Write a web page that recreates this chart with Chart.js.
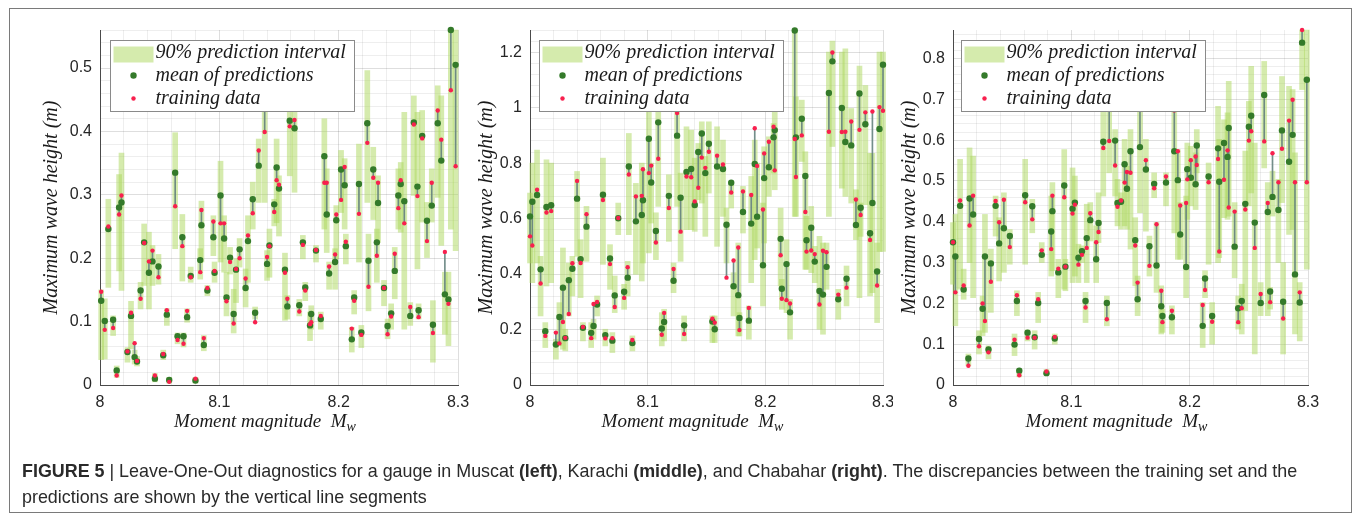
<!DOCTYPE html>
<html>
<head>
<meta charset="utf-8">
<script src="https://cdn.jsdelivr.net/npm/chart.js@4.4.0/dist/chart.umd.min.js"></script>
<style>
html,body{margin:0;padding:0;background:#fff;width:1355px;height:519px;overflow:hidden;}
.cw{position:absolute;top:0;height:440px;}
#frame{position:absolute;left:9px;top:8px;width:1341px;height:503px;border:1.5px solid #7a7a7a;pointer-events:none;}
#cap{position:absolute;left:22px;top:459px;font-family:"Liberation Sans",Arial,sans-serif;font-size:17.9px;line-height:25.5px;color:#2a2a2a;white-space:nowrap;}
</style>
</head>
<body>
<div class="cw" style="left:0px;width:470px"><canvas id="c1" width="470" height="440"></canvas></div>
<div class="cw" style="left:470px;width:423px"><canvas id="c2" width="423" height="440"></canvas></div>
<div class="cw" style="left:893px;width:450px"><canvas id="c3" width="450" height="440"></canvas></div>
<div id="frame"></div>
<div id="cap"><b>FIGURE 5</b> | Leave-One-Out diagnostics for a gauge in Muscat <b>(left)</b>, Karachi <b>(middle)</b>, and Chabahar <b>(right)</b>. The discrepancies between the training set and the<br>predictions are shown by the vertical line segments</div>
<script>
// ---------------- DATA ----------------
const legendLabels = ['90% prediction interval', 'mean of predictions', 'training data'];
const yTitle = 'Maximum wave height (m)';
const xTitleMain = 'Moment magnitude  M';
const xTitleSub = 'w';

const xMajorTicks = [8, 8.1, 8.2, 8.3];
const yMajorMuscat = [0, 0.1, 0.2, 0.3, 0.4, 0.5];
const yMajorKarachi = [0, 0.2, 0.4, 0.6, 0.8, 1, 1.2];
const yMajorChabahar = [0, 0.1, 0.2, 0.3, 0.4, 0.5, 0.6, 0.7, 0.8];

// Muscat (left)
const xMuscat = [8.001,8.004,8.007,8.011,8.014,8.016,8.018,8.023,8.026,8.029,8.031,8.034,8.037,8.041,8.044,8.046,8.049,8.053,8.056,8.058,8.063,8.065,8.069,8.070,8.073,8.076,8.080,8.084,8.085,8.087,8.090,8.095,8.096,8.101,8.104,8.106,8.109,8.112,8.114,8.117,8.122,8.124,8.128,8.130,8.133,8.138,8.140,8.142,8.146,8.148,8.150,8.155,8.157,8.159,8.163,8.167,8.170,8.172,8.176,8.177,8.181,8.185,8.188,8.190,8.192,8.197,8.198,8.202,8.205,8.206,8.211,8.213,8.217,8.219,8.224,8.225,8.229,8.232,8.233,8.238,8.241,8.244,8.247,8.250,8.252,8.255,8.260,8.263,8.266,8.267,8.270,8.274,8.278,8.279,8.283,8.286,8.289,8.292,8.294,8.298];
const meanMuscat = [0.133,0.101,0.246,0.103,0.023,0.280,0.288,0.052,0.109,0.044,0.037,0.149,0.225,0.177,0.195,0.010,0.187,0.047,0.111,0.008,0.335,0.077,0.233,0.077,0.107,0.172,0.007,0.197,0.252,0.063,0.149,0.233,0.177,0.299,0.231,0.138,0.201,0.112,0.182,0.214,0.153,0.227,0.293,0.114,0.346,0.437,0.191,0.220,0.285,0.343,0.310,0.182,0.124,0.417,0.405,0.126,0.225,0.154,0.094,0.112,0.212,0.104,0.361,0.269,0.176,0.194,0.260,0.340,0.315,0.219,0.072,0.138,0.317,0.083,0.413,0.196,0.340,0.225,0.287,0.153,0.093,0.113,0.180,0.299,0.317,0.290,0.109,0.414,0.313,0.118,0.393,0.259,0.283,0.095,0.413,0.354,0.143,0.135,0.560,0.505];
const trainMuscat = [0.147,0.087,0.250,0.090,0.015,0.269,0.299,0.053,0.114,0.066,0.038,0.136,0.224,0.195,0.212,0.015,0.170,0.049,0.118,0.005,0.282,0.071,0.219,0.065,0.117,0.170,0.010,0.178,0.276,0.074,0.153,0.258,0.180,0.255,0.255,0.132,0.194,0.097,0.183,0.200,0.168,0.236,0.271,0.099,0.370,0.399,0.202,0.219,0.273,0.323,0.316,0.177,0.136,0.408,0.418,0.116,0.221,0.149,0.096,0.099,0.213,0.109,0.319,0.319,0.187,0.206,0.269,0.292,0.344,0.226,0.089,0.133,0.270,0.079,0.382,0.155,0.327,0.204,0.319,0.153,0.080,0.108,0.207,0.279,0.323,0.255,0.123,0.411,0.298,0.107,0.389,0.227,0.319,0.082,0.433,0.387,0.210,0.128,0.465,0.345];
const loMuscat = [0.040,0.041,0.154,0.078,0.012,0.180,0.149,0.036,0.057,0.033,0.030,0.120,0.157,0.120,0.157,0.005,0.159,0.040,0.094,0.003,0.215,0.065,0.164,0.060,0.099,0.162,0.003,0.167,0.194,0.054,0.141,0.204,0.162,0.194,0.178,0.109,0.175,0.082,0.130,0.186,0.123,0.162,0.246,0.104,0.288,0.288,0.165,0.170,0.251,0.256,0.235,0.102,0.104,0.330,0.304,0.109,0.199,0.133,0.070,0.088,0.194,0.088,0.246,0.209,0.151,0.151,0.199,0.272,0.246,0.191,0.052,0.112,0.194,0.059,0.288,0.117,0.261,0.162,0.225,0.125,0.073,0.088,0.136,0.246,0.241,0.088,0.094,0.299,0.183,0.104,0.257,0.201,0.257,0.036,0.296,0.220,0.080,0.062,0.246,0.212];
const hiMuscat = [0.150,0.136,0.293,0.109,0.030,0.332,0.366,0.059,0.132,0.055,0.045,0.162,0.254,0.241,0.220,0.018,0.206,0.055,0.120,0.012,0.398,0.082,0.269,0.082,0.120,0.186,0.012,0.215,0.290,0.078,0.157,0.267,0.194,0.353,0.267,0.178,0.217,0.151,0.199,0.231,0.183,0.267,0.320,0.123,0.388,0.514,0.212,0.246,0.293,0.388,0.330,0.208,0.141,0.456,0.456,0.135,0.236,0.162,0.115,0.125,0.220,0.115,0.420,0.341,0.194,0.215,0.283,0.370,0.357,0.238,0.091,0.149,0.380,0.094,0.496,0.238,0.375,0.246,0.330,0.165,0.104,0.128,0.217,0.341,0.351,0.430,0.130,0.456,0.430,0.128,0.433,0.288,0.341,0.133,0.472,0.456,0.178,0.178,0.560,0.560];

// Karachi (middle)
const xKarachi = [8.000,8.002,8.006,8.009,8.013,8.014,8.018,8.022,8.025,8.028,8.030,8.033,8.036,8.040,8.043,8.045,8.048,8.052,8.054,8.057,8.062,8.064,8.068,8.070,8.072,8.075,8.080,8.083,8.084,8.087,8.090,8.095,8.096,8.101,8.103,8.107,8.109,8.112,8.114,8.118,8.122,8.125,8.128,8.131,8.133,8.137,8.140,8.143,8.146,8.149,8.152,8.155,8.157,8.159,8.164,8.167,8.171,8.173,8.177,8.178,8.181,8.186,8.188,8.191,8.193,8.198,8.199,8.203,8.207,8.208,8.213,8.214,8.218,8.221,8.225,8.226,8.231,8.234,8.235,8.239,8.242,8.246,8.249,8.252,8.254,8.257,8.262,8.265,8.268,8.269,8.273,8.277,8.280,8.281,8.285,8.289,8.291,8.295,8.297,8.300];
const meanKarachi = [0.608,0.661,0.685,0.417,0.194,0.642,0.648,0.146,0.245,0.351,0.169,0.378,0.419,0.672,0.454,0.206,0.571,0.188,0.213,0.290,0.686,0.180,0.456,0.160,0.323,0.601,0.336,0.387,0.788,0.151,0.590,0.613,0.666,0.888,0.730,0.555,0.947,0.204,0.227,0.682,0.376,0.899,0.675,0.215,0.768,0.779,0.649,0.840,0.907,0.764,0.870,0.229,0.201,0.788,0.779,0.578,0.729,0.356,0.324,0.242,0.624,0.232,0.582,0.797,0.607,0.432,0.746,0.785,0.893,0.919,0.527,0.347,0.436,0.262,1.278,0.893,0.960,0.754,0.522,0.567,0.445,0.339,0.326,0.426,1.053,1.167,0.309,0.999,0.876,0.383,0.864,0.577,1.051,0.639,0.940,0.547,0.656,0.409,0.923,1.155];
const trainKarachi = [0.536,0.503,0.704,0.366,0.177,0.622,0.627,0.189,0.150,0.227,0.170,0.256,0.439,0.736,0.440,0.209,0.616,0.169,0.292,0.299,0.667,0.168,0.436,0.169,0.281,0.602,0.314,0.425,0.759,0.162,0.680,0.682,0.778,0.764,0.791,0.514,0.816,0.181,0.260,0.638,0.418,0.981,0.553,0.184,0.752,0.749,0.662,0.711,0.820,0.783,0.841,0.239,0.225,0.827,0.795,0.387,0.694,0.449,0.496,0.198,0.698,0.278,0.685,0.926,0.790,0.633,0.835,0.877,0.931,0.774,0.468,0.311,0.306,0.294,0.887,0.750,0.900,0.624,0.481,0.485,0.472,0.290,0.484,0.479,0.913,1.199,0.326,0.912,0.913,0.351,0.950,0.669,0.920,0.613,0.983,0.523,0.986,0.359,1.002,0.989];
const loKarachi = [0.440,0.369,0.440,0.249,0.135,0.357,0.369,0.093,0.141,0.129,0.123,0.249,0.321,0.464,0.315,0.159,0.446,0.135,0.165,0.249,0.435,0.141,0.345,0.117,0.261,0.542,0.273,0.321,0.542,0.123,0.399,0.375,0.440,0.476,0.584,0.452,0.644,0.141,0.159,0.518,0.333,0.644,0.446,0.159,0.560,0.560,0.554,0.668,0.656,0.536,0.692,0.153,0.153,0.500,0.608,0.440,0.638,0.249,0.177,0.177,0.548,0.165,0.369,0.452,0.494,0.285,0.512,0.680,0.764,0.704,0.357,0.273,0.261,0.165,0.608,0.608,0.806,0.417,0.417,0.405,0.369,0.201,0.183,0.345,0.608,0.860,0.237,0.710,0.680,0.285,0.656,0.524,0.315,0.536,0.650,0.321,0.333,0.225,0.482,0.482];
const hiKarachi = [0.692,0.800,0.847,0.464,0.225,0.812,0.800,0.165,0.297,0.494,0.201,0.440,0.464,0.770,0.524,0.225,0.644,0.225,0.237,0.321,0.818,0.201,0.506,0.189,0.393,0.656,0.363,0.446,0.907,0.177,0.727,0.800,0.775,1.081,0.800,0.621,1.099,0.261,0.273,0.758,0.440,1.039,0.764,0.249,0.931,0.919,0.818,0.871,0.949,0.824,0.949,0.249,0.249,0.931,0.883,0.638,0.734,0.405,0.512,0.261,0.716,0.285,0.752,0.883,0.800,0.656,0.859,0.895,0.943,0.985,0.638,0.381,0.524,0.309,1.280,1.039,1.027,0.841,0.608,0.644,0.500,0.536,0.512,0.512,1.200,1.240,0.345,1.200,1.212,0.429,0.997,0.704,1.150,0.656,1.080,0.835,0.835,0.512,1.200,1.200];

// Chabahar (right)
const xChabahar = [8.000,8.002,8.006,8.009,8.013,8.014,8.017,8.022,8.025,8.027,8.030,8.032,8.036,8.039,8.043,8.048,8.052,8.054,8.056,8.061,8.063,8.067,8.069,8.072,8.075,8.079,8.083,8.084,8.086,8.089,8.094,8.095,8.101,8.103,8.106,8.109,8.112,8.113,8.116,8.121,8.123,8.127,8.130,8.132,8.137,8.139,8.142,8.145,8.147,8.150,8.154,8.156,8.158,8.163,8.166,8.170,8.172,8.176,8.177,8.180,8.185,8.187,8.190,8.192,8.197,8.198,8.201,8.205,8.206,8.211,8.213,8.216,8.219,8.224,8.225,8.229,8.232,8.233,8.238,8.241,8.244,8.247,8.250,8.252,8.255,8.260,8.263,8.266,8.268,8.270,8.275,8.278,8.279,8.284,8.287,8.289,8.293,8.295,8.299];
const meanChabahar = [0.350,0.315,0.439,0.234,0.065,0.457,0.418,0.113,0.187,0.315,0.087,0.298,0.439,0.347,0.384,0.365,0.099,0.206,0.035,0.465,0.128,0.438,0.117,0.201,0.319,0.029,0.376,0.426,0.114,0.276,0.489,0.290,0.432,0.447,0.312,0.328,0.206,0.360,0.404,0.308,0.397,0.596,0.201,0.678,0.599,0.446,0.449,0.541,0.481,0.573,0.355,0.210,0.583,0.528,0.340,0.493,0.293,0.193,0.169,0.496,0.166,0.573,0.502,0.369,0.289,0.529,0.508,0.492,0.587,0.145,0.261,0.511,0.169,0.580,0.498,0.593,0.559,0.630,0.339,0.188,0.206,0.444,0.633,0.660,0.398,0.201,0.711,0.424,0.229,0.461,0.429,0.624,0.204,0.547,0.613,0.271,0.202,0.839,0.748];
const trainChabahar = [0.350,0.227,0.452,0.244,0.047,0.391,0.464,0.095,0.200,0.157,0.080,0.253,0.451,0.399,0.454,0.338,0.111,0.220,0.024,0.448,0.116,0.406,0.116,0.210,0.330,0.033,0.333,0.464,0.118,0.285,0.460,0.290,0.420,0.442,0.295,0.319,0.190,0.336,0.421,0.350,0.375,0.581,0.161,0.598,0.538,0.437,0.452,0.496,0.522,0.520,0.342,0.251,0.690,0.551,0.292,0.482,0.394,0.231,0.154,0.511,0.182,0.673,0.573,0.440,0.446,0.504,0.551,0.560,0.539,0.196,0.233,0.497,0.155,0.554,0.327,0.503,0.575,0.435,0.425,0.154,0.188,0.430,0.599,0.622,0.336,0.223,0.597,0.446,0.203,0.568,0.497,0.579,0.163,0.648,0.699,0.497,0.227,0.870,0.497];
const loChabahar = [0.247,0.145,0.235,0.210,0.047,0.300,0.214,0.076,0.121,0.129,0.064,0.178,0.365,0.255,0.276,0.296,0.072,0.170,0.020,0.296,0.108,0.373,0.088,0.153,0.300,0.025,0.267,0.280,0.100,0.214,0.235,0.231,0.251,0.267,0.251,0.300,0.153,0.251,0.353,0.251,0.349,0.463,0.145,0.520,0.463,0.390,0.382,0.390,0.382,0.333,0.243,0.170,0.422,0.377,0.267,0.459,0.227,0.125,0.129,0.439,0.125,0.373,0.308,0.308,0.214,0.406,0.439,0.430,0.520,0.092,0.214,0.296,0.100,0.300,0.312,0.410,0.406,0.414,0.263,0.137,0.125,0.182,0.439,0.471,0.076,0.170,0.532,0.170,0.186,0.414,0.300,0.447,0.076,0.369,0.381,0.125,0.108,0.724,0.284];
const hiChabahar = [0.398,0.418,0.553,0.284,0.076,0.581,0.561,0.133,0.218,0.418,0.096,0.333,0.463,0.410,0.471,0.381,0.125,0.231,0.040,0.553,0.135,0.455,0.133,0.227,0.349,0.038,0.463,0.496,0.125,0.308,0.577,0.308,0.532,0.512,0.345,0.341,0.227,0.443,0.447,0.390,0.471,0.675,0.218,0.756,0.626,0.504,0.471,0.602,0.536,0.626,0.410,0.267,0.691,0.602,0.365,0.520,0.398,0.243,0.186,0.520,0.194,0.683,0.577,0.447,0.463,0.593,0.585,0.569,0.626,0.202,0.280,0.544,0.202,0.683,0.602,0.650,0.667,0.744,0.447,0.218,0.247,0.573,0.695,0.781,0.593,0.251,0.793,0.496,0.239,0.524,0.504,0.756,0.300,0.732,0.724,0.569,0.251,0.870,0.870];

// ---------------- STYLE ----------------
const BAND = 'rgba(172,216,92,0.5)';
const SEG = 'rgba(100,130,125,0.9)';
const MEAN_C = '#347a2a';
const TRAIN_C = '#f8204e';
const SERIF = '"Liberation Serif", "Times New Roman", serif';
const SANS = '"Liberation Sans", Arial, sans-serif';

function stepTicks(min, max, step) {
  const out = [];
  const n = Math.round((max - min) / step) + 1;
  for (let k = 0; k <= n; k++) {
    const v = +(min + k * step).toFixed(6);
    if (v <= max + 1e-9) out.push({ value: v });
  }
  return out;
}
function isMajor(v, majors) { return majors.some(m => Math.abs(m - v) < 1e-6); }

function makePanel(id, d, st) {
  const n = Math.min(d.x.length, d.mean.length, d.train.length, d.lo.length, d.hi.length);
  const band = [], seg = [], mean = [], train = [];
  for (let i = 0; i < n; i++) {
    band.push({ x: d.x[i], y: [d.lo[i], d.hi[i]] });
    seg.push({ x: d.x[i], y: [Math.min(d.mean[i], d.train[i]), Math.max(d.mean[i], d.train[i])] });
    mean.push({ x: d.x[i], y: d.mean[i] });
    train.push({ x: d.x[i], y: d.train[i] });
  }
  const legendPlugin = {
    id: 'insideLegend' + id,
    afterDatasetsDraw(chart) {
      const { ctx, chartArea } = chart;
      const bx = Math.round(chartArea.left + st.legendDx) + 0.5;
      const by = Math.round(chartArea.top + 10) + 0.5;
      const bw = 244, bh = 71;
      ctx.save();
      ctx.fillStyle = '#fff'; ctx.fillRect(bx, by, bw, bh);
      ctx.strokeStyle = '#8a8a8a'; ctx.lineWidth = 1; ctx.strokeRect(bx, by, bw, bh);
      ctx.fillStyle = BAND; ctx.fillRect(bx + 3, by + 6, 40, 16);
      ctx.fillStyle = MEAN_C; ctx.beginPath(); ctx.arc(bx + 23, by + 35, 3.2, 0, Math.PI * 2); ctx.fill();
      ctx.fillStyle = TRAIN_C; ctx.beginPath(); ctx.arc(bx + 23, by + 58, 2.2, 0, Math.PI * 2); ctx.fill();
      ctx.fillStyle = '#1a1a1a';
      ctx.font = 'italic 20px ' + SERIF;
      ctx.textBaseline = 'middle'; ctx.textAlign = 'left';
      legendLabels.forEach((t, i) => ctx.fillText(t, bx + 45, by + 12 + i * 23));
      ctx.restore();
    }
  };
  const xTitlePlugin = {
    id: 'xTitle' + id,
    afterDraw(chart) {
      const { ctx, chartArea } = chart;
      ctx.save();
      ctx.fillStyle = '#1a1a1a';
      ctx.textBaseline = 'alphabetic'; ctx.textAlign = 'left';
      ctx.font = 'italic 19px ' + SERIF;
      const w1 = ctx.measureText(xTitleMain).width;
      ctx.font = 'italic 14px ' + SERIF;
      const w2 = ctx.measureText(xTitleSub).width;
      const cx = (chartArea.left + chartArea.right) / 2 - 14;
      const x0 = cx - (w1 + w2) / 2;
      ctx.font = 'italic 19px ' + SERIF;
      ctx.fillText(xTitleMain, x0, 427);
      ctx.font = 'italic 14px ' + SERIF;
      ctx.fillText(xTitleSub, x0 + w1, 431);
      ctx.restore();
    }
  };
  const gridColor = (majors) => (c) => (c.tick && isMajor(c.tick.value, majors)) ? 'rgba(0,0,0,0.13)' : 'rgba(0,0,0,0.065)';
  return new Chart(document.getElementById(id), {
    type: 'bar',
    data: {
      datasets: [
        { type: 'bar', label: legendLabels[0], data: band, backgroundColor: BAND, borderWidth: 0, barThickness: 5, grouped: false, order: 4, clip: false },
        { type: 'bar', label: 'discrepancy', data: seg, backgroundColor: SEG, borderWidth: 0, barThickness: 1, grouped: false, order: 3, clip: false },
        { type: 'scatter', label: legendLabels[1], data: mean, backgroundColor: MEAN_C, borderWidth: 0, pointRadius: 3.2, order: 2, clip: false },
        { type: 'scatter', label: legendLabels[2], data: train, backgroundColor: TRAIN_C, borderWidth: 0, pointRadius: 2.2, order: 1, clip: false }
      ]
    },
    options: {
      responsive: false,
      animation: false,
      devicePixelRatio: 1,
      events: [],
      layout: { padding: { top: 30, right: st.padRight, left: 0, bottom: 0 } },
      plugins: { legend: { display: false }, tooltip: { enabled: false } },
      scales: {
        x: {
          type: 'linear', min: 8, max: 8.3, offset: false,
          afterBuildTicks: (s) => { s.ticks = stepTicks(8, 8.3, 0.02); },
          afterFit: (s) => { s.height = 55; s.paddingLeft = 0; s.paddingRight = 0; },
          grid: { offset: false, drawTicks: false, color: gridColor(xMajorTicks), lineWidth: 1 },
          border: { display: true, color: '#4a4a4a', width: 1 },
          ticks: {
            autoSkip: false, maxRotation: 0, padding: 8, color: '#262626',
            font: { family: SANS, size: 16 },
            callback: (v) => isMajor(v, xMajorTicks) ? String(+v.toFixed(1)) : ''
          }
        },
        y: {
          type: 'linear', min: 0, max: st.yMax,
          afterBuildTicks: (s) => { s.ticks = stepTicks(0, st.yMax, st.yStep); },
          afterFit: (s) => { s.width = st.yAxisWidth; s.paddingTop = 0; s.paddingBottom = 0; },
          grid: { drawTicks: false, color: gridColor(st.yMajor), lineWidth: 1 },
          border: { display: true, color: '#4a4a4a', width: 1 },
          ticks: {
            autoSkip: false, padding: 8, color: '#262626',
            font: { family: SANS, size: 16 },
            callback: (v) => isMajor(v, st.yMajor) ? String(+v.toFixed(1)) : ''
          },
          title: {
            display: true, text: yTitle, color: '#1a1a1a',
            font: { family: SERIF, style: 'italic', size: 20 },
            padding: { top: st.yTitlePad, bottom: 0 }
          }
        }
      }
    },
    plugins: [legendPlugin, xTitlePlugin]
  });
}

makePanel('c1', { x: xMuscat, mean: meanMuscat, train: trainMuscat, lo: loMuscat, hi: hiMuscat },
  { yMax: 0.56, yStep: 0.02, yMajor: yMajorMuscat, yAxisWidth: 100, padRight: 12, yTitlePad: 40, legendDx: 10 });
makePanel('c2', { x: xKarachi, mean: meanKarachi, train: trainKarachi, lo: loKarachi, hi: hiKarachi },
  { yMax: 1.28, yStep: 0.04, yMajor: yMajorKarachi, yAxisWidth: 60, padRight: 10, yTitlePad: 5, legendDx: 9 });
makePanel('c3', { x: xChabahar, mean: meanChabahar, train: trainChabahar, lo: loChabahar, hi: hiChabahar },
  { yMax: 0.87, yStep: 0.02, yMajor: yMajorChabahar, yAxisWidth: 60, padRight: 35, yTitlePad: 5, legendDx: 8 });
</script>
</body>
</html>
